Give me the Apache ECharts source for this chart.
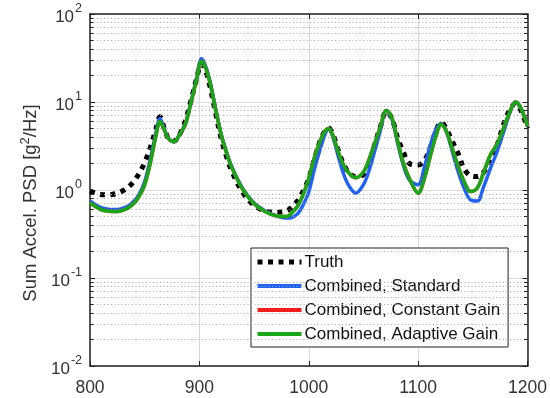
<!DOCTYPE html>
<html>
<head>
<meta charset="utf-8">
<script src="https://cdn.jsdelivr.net/npm/echarts@6/dist/echarts.min.js"></script>
<style>
html,body{margin:0;padding:0;background:#fff;}
#c{width:550px;height:398px;}
</style>
</head>
<body>
<div id="c"></div>
<script>
var freq = [800,805,810,815,820,825,830,835,840,845,850,855,860,864,868,872,877,882,887,892,897,902,906,910,915,920,925,930,940,950,960,970,980,985,990,995,1000,1005,1010,1014,1018,1022,1027,1032,1037,1043,1050,1055,1060,1065,1071,1076,1081,1086,1092,1100,1106,1111,1116,1121,1126,1131,1136,1142,1148,1154,1160,1166,1172,1178,1183,1189,1194,1200];

var truth = [0.97,0.92,0.89,0.88,0.89,0.92,0.98,1.08,1.25,1.55,2.05,3.0,4.8,6.8,5.0,3.8,3.6,4.3,6.0,10,17.5,27,22,14.5,7.3,3.8,2.35,1.6,0.92,0.67,0.58,0.56,0.58,0.65,0.76,0.98,1.35,2.2,3.5,4.5,5.1,4.3,2.8,1.95,1.55,1.42,1.5,2.0,3.2,5.0,7.8,6.5,4.0,2.8,2.0,1.92,2.2,3.0,4.6,5.9,4.9,3.6,2.7,1.75,1.45,1.42,1.6,2.3,3.2,5.5,7.8,9.6,8.0,5.0];

var standard = [0.75,0.68,0.63,0.61,0.60,0.60,0.62,0.66,0.74,0.90,1.25,2.2,4.3,6.5,4.9,3.8,3.55,4.3,5.6,9.6,17.5,31,25,16.5,8.2,4.3,2.65,1.8,1.02,0.71,0.58,0.51,0.48,0.49,0.54,0.68,0.95,1.7,2.8,4.0,5.0,4.0,2.4,1.5,1.1,0.92,1.15,1.65,2.7,4.5,8.0,6.4,3.5,2.0,1.3,1.15,1.9,3.2,4.8,5.7,4.5,2.8,1.7,1.05,0.77,0.75,1.1,1.75,2.7,4.5,7.0,10.0,8.5,5.3];

var constantGain = [0.72,0.65,0.60,0.58,0.57,0.57,0.59,0.63,0.70,0.85,1.15,2.0,4.0,6.0,4.8,3.8,3.55,4.3,5.5,9.5,17,29,24,16,8,4.2,2.6,1.75,1.0,0.7,0.57,0.51,0.50,0.56,0.66,0.9,1.35,2.3,3.5,4.5,5.0,4.2,2.7,1.9,1.55,1.38,1.6,2.2,3.3,5.0,8.0,6.6,3.7,2.1,1.35,0.92,1.4,2.4,4.0,5.6,4.6,3.0,1.95,1.25,0.96,1.05,1.6,2.5,3.3,5.0,7.3,10.0,8.5,5.3];

var adaptiveGain = [0.72,0.65,0.60,0.58,0.57,0.57,0.59,0.63,0.70,0.85,1.15,2.0,4.0,6.0,4.8,3.8,3.55,4.3,5.5,9.5,17,29,24,16,8,4.2,2.6,1.75,1.0,0.7,0.57,0.51,0.50,0.56,0.66,0.9,1.35,2.3,3.5,4.5,5.0,4.2,2.7,1.9,1.55,1.38,1.6,2.2,3.3,5.0,8.0,6.6,3.7,2.1,1.35,0.92,1.4,2.4,4.0,5.6,4.6,3.0,1.95,1.25,0.96,1.05,1.6,2.5,3.3,5.0,7.3,10.0,8.5,5.3];

var seriesNames = ['Truth','Combined, Standard','Combined, Constant Gain','Combined, Adaptive Gain'];
var seriesColors = ['#000000','#1f62f5','#f01c1c','#16a816'];
var xTicks = [800,900,1000,1100,1200];
var yDecades = [-2,-1,0,1,2];

function pairs(ys){ return freq.map(function(f,i){ return [f, ys[i]]; }); }

// minor log grid positions (2..9 x 10^d) and minor tick stubs on left/right frame
var minorLines = [], minorTicks = [];
for (var d = -2; d < 2; d++) {
  for (var m = 2; m <= 9; m++) {
    var v = m * Math.pow(10, d);
    minorLines.push({yAxis: v});
    minorTicks.push([{coord:[800, v]}, {coord:[803.2, v]}]);
    minorTicks.push([{coord:[1196.8, v]}, {coord:[1200, v]}]);
  }
}

var font = 'Liberation Sans, Arial, Helvetica, sans-serif';
var chart = echarts.init(document.getElementById('c'), null, {renderer:'canvas'});
var lineCommon = {type:'line', showSymbol:false, symbol:'none', smooth:0.35, animation:false};

var legendData = seriesNames.map(function(n, i){
  return {
    name:n,
    lineStyle: i === 0
      ? {color:seriesColors[i], width:5, type:[5,5.5], cap:'butt'}
      : {color:seriesColors[i], width:4, type:'solid'}
  };
});

chart.setOption({
  backgroundColor:'#fff',
  animation:false,
  textStyle:{fontFamily:font},
  grid:{left:90, right:20, top:14, bottom:32, show:false},
  legend:{
    orient:'vertical', left:251, top:248,
    data:legendData,
    itemWidth:44, itemHeight:14, itemGap:6,
    backgroundColor:'#fff', borderColor:'#222', borderWidth:1,
    padding:[5,8,4,4],
    itemStyle:{opacity:0, color:'transparent', borderColor:'transparent', borderWidth:0},
    textStyle:{fontSize:17, lineHeight:18, color:'#111', fontFamily:font, padding:[0,0,0,-2]}
  },
  xAxis:[{
    type:'value', min:800, max:1200, interval:100,
    axisLine:{show:true, lineStyle:{color:'#222', width:1.5}},
    axisTick:{show:true, inside:true, length:5, lineStyle:{color:'#222'}},
    axisLabel:{fontSize:17.5, color:'#333', margin:13, fontFamily:font,
      formatter:function(v){ return xTicks.indexOf(v) >= 0 ? String(v) : ''; }},
    splitLine:{show:true, lineStyle:{color:'#dadada', width:1}}
  },{
    type:'value', min:800, max:1200, interval:100, position:'top',
    axisLine:{show:true, onZero:false, lineStyle:{color:'#222', width:1.5}},
    axisTick:{show:true, inside:true, length:5, lineStyle:{color:'#222'}},
    axisLabel:{show:false}, splitLine:{show:false}
  }],
  yAxis:[{
    type:'log', logBase:10, min:0.01, max:100, splitNumber:4,
    axisLine:{show:true, lineStyle:{color:'#222', width:1.5}},
    axisTick:{show:true, inside:true, length:5, lineStyle:{color:'#222'}},
    axisLabel:{color:'#333', margin:8, fontFamily:font,
      formatter:function(v){
        var e = Math.round(Math.log10(v));
        return yDecades.indexOf(e) >= 0 ? '{b|10}{s|' + e + '}' : '';
      },
      rich:{
        b:{fontSize:17, color:'#333', fontFamily:font, lineHeight:24, verticalAlign:'bottom'},
        s:{fontSize:12.5, color:'#333', fontFamily:font, lineHeight:24, verticalAlign:'top', padding:[0,0,0,1]}
      }
    },
    splitLine:{show:true, lineStyle:{color:'#dadada', width:1}},
    name:'Sum Accel. PSD [g{s|2}/Hz]',
    nameLocation:'middle', nameGap:46, nameRotate:90,
    nameTextStyle:{fontSize:18.5, color:'#333', fontFamily:font, padding:[0,26,0,0],
      rich:{s:{fontSize:13, color:'#333', fontFamily:font, verticalAlign:'top', lineHeight:24}}}
  },{
    type:'log', logBase:10, min:0.01, max:100, splitNumber:4, position:'right',
    axisLine:{show:true, onZero:false, lineStyle:{color:'#222', width:1.5}},
    axisTick:{show:true, inside:true, length:5, lineStyle:{color:'#222'}},
    axisLabel:{show:false}, splitLine:{show:false}
  }],
  series:[
    {type:'line', name:'minor', data:[], silent:true, z:1,
     markLine:{silent:true, symbol:'none', animation:false, label:{show:false},
       lineStyle:{type:[1,2.5], color:'#a8a8a8', width:1}, data:minorLines}},
    {type:'line', name:'minorTicks', data:[], silent:true, z:7,
     markLine:{silent:true, symbol:'none', animation:false, label:{show:false},
       lineStyle:{type:'solid', color:'#222', width:1}, data:minorTicks}},
    Object.assign({}, lineCommon, {name:seriesNames[0], data:pairs(truth), z:3,
      lineStyle:{color:seriesColors[0], width:5, type:[5,5.5], cap:'butt'}, itemStyle:{color:seriesColors[0]}}),
    Object.assign({}, lineCommon, {name:seriesNames[1], data:pairs(standard), z:4,
      lineStyle:{color:seriesColors[1], width:3.5}, itemStyle:{color:seriesColors[1]}}),
    Object.assign({}, lineCommon, {name:seriesNames[2], data:pairs(constantGain), z:5,
      lineStyle:{color:seriesColors[2], width:3.5}, itemStyle:{color:seriesColors[2]}}),
    Object.assign({}, lineCommon, {name:seriesNames[3], data:pairs(adaptiveGain), z:6,
      lineStyle:{color:seriesColors[3], width:3.5}, itemStyle:{color:seriesColors[3]}})
  ]
});
</script>
</body>
</html>
